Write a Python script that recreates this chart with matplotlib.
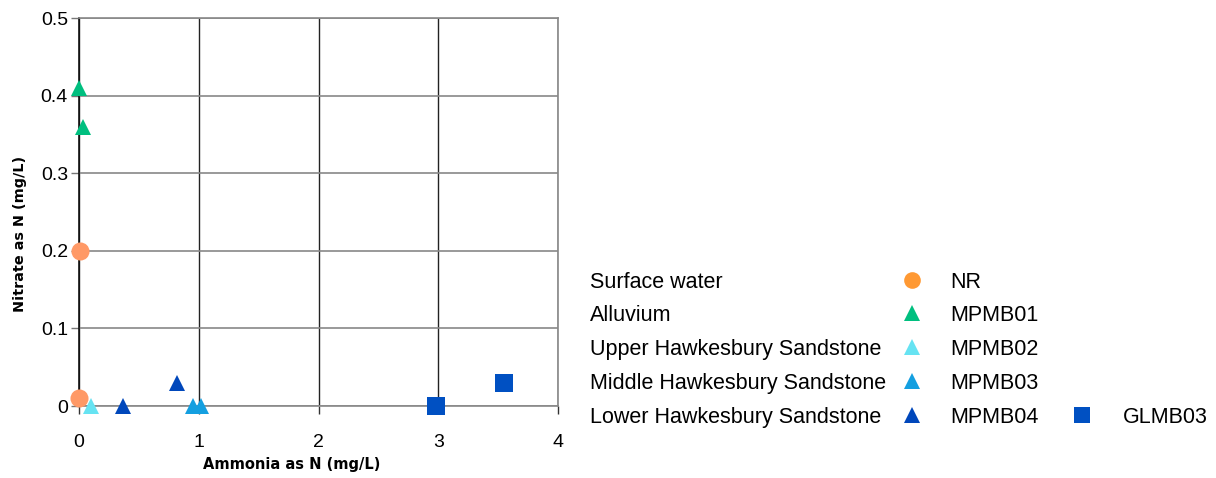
import matplotlib
matplotlib.use("Agg")
import matplotlib.pyplot as plt
from matplotlib.lines import Line2D

plt.rcParams['font.family'] = ['Liberation Sans', 'DejaVu Sans']

# station data: ammonia (x) vs nitrate (y), mg/L
stations = ["NR", "MPMB01", "MPMB02", "MPMB03", "MPMB04", "GLMB03"]
units = ["Surface water", "Alluvium", "Upper Hawkesbury Sandstone",
         "Middle Hawkesbury Sandstone", "Lower Hawkesbury Sandstone"]
ammonia = {
    "NR": [0.01, 0.0],
    "MPMB01": [0.0, 0.03],
    "MPMB02": [0.1],
    "MPMB03": [0.95, 1.02],
    "MPMB04": [0.37, 0.82],
    "GLMB03": [2.98, 3.55],
}
nitrate = {
    "NR": [0.2, 0.01],
    "MPMB01": [0.41, 0.36],
    "MPMB02": [0.0],
    "MPMB03": [0.0, 0.0],
    "MPMB04": [0.0, 0.03],
    "GLMB03": [0.0, 0.03],
}
x_ticks = [0, 1, 2, 3, 4]
y_ticks = [0, 0.1, 0.2, 0.3, 0.4, 0.5]
y_ticklabels = ["0", "0.1", "0.2", "0.3", "0.4", "0.5"]

style = {
    "NR": dict(marker="o", color="#FF9966", ms=13),
    "MPMB01": dict(marker="^", color="#00BF7F", ms=12),
    "MPMB02": dict(marker="^", color="#66E3F2", ms=12),
    "MPMB03": dict(marker="^", color="#149FE0", ms=12),
    "MPMB04": dict(marker="^", color="#0047BB", ms=12),
    "GLMB03": dict(marker="s", color="#0050C2", ms=13),
}
legend_colors = {"NR": "#FF9933"}

W, H = 1216, 478
fig = plt.figure(figsize=(W / 100, H / 100), dpi=100)
ax = fig.add_axes([0.065, 0.1506, 0.394, 0.8114])

for s in stations:
    st = style[s]
    ax.plot(ammonia[s], nitrate[s], linestyle="none", marker=st["marker"],
            color=st["color"], markersize=st["ms"], markeredgewidth=0,
            clip_on=False, zorder=5)

ax.set_xlim(0, 4)
ax.set_ylim(0, 0.5)
ax.set_xticks(x_ticks)
ax.set_yticks(y_ticks)
ax.set_yticklabels(y_ticklabels)
ax.tick_params(axis="both", labelsize=14, length=6, width=1, direction="out",
               colors="#777777", labelcolor="black")
ax.tick_params(axis="y", pad=2)
ax.tick_params(axis="x", colors="#333333", labelcolor="black", pad=14)
ax.grid(axis="x", color="#222222", linewidth=1)
ax.grid(axis="y", color="#888888", linewidth=1.2)
for side in ["top", "right", "bottom"]:
    ax.spines[side].set_color("#888888")
    ax.spines[side].set_linewidth(1.2)
ax.spines["left"].set_color("#111111")
ax.spines["left"].set_linewidth(1.2)

label_font = dict(fontweight="bold", family=["DejaVu Sans"])
fig.text(292 / W, 1 - 464 / H, "Ammonia as N (mg/L)", fontsize=10.5,
         ha="center", va="center", **label_font)
fig.text(20 / W, 1 - 234 / H, "Nitrate as N (mg/L)", fontsize=10.4,
         ha="center", va="center", rotation=90, **label_font)

# legend laid out as a table of text and markers
row_y = [280, 313, 347, 381, 415]
for i, (u, s) in enumerate(zip(units, stations[:5])):
    yf = 1 - row_y[i] / H
    yb = 1 - (row_y[i] + 8) / H
    fig.text(590 / W, yb, u, fontsize=15.5, va="baseline", ha="left")
    st = style[s]
    fig.add_artist(Line2D([912 / W], [yf], marker=st["marker"], linestyle="none",
                          color=legend_colors.get(s, st["color"]),
                          markersize=st["ms"] - 1, markeredgewidth=0,
                          transform=fig.transFigure))
    fig.text(950 / W, yb, s, fontsize=15.5, va="baseline", ha="left")

yf = 1 - row_y[4] / H
yb = 1 - (row_y[4] + 8) / H
st = style["GLMB03"]
fig.add_artist(Line2D([1082 / W], [yf], marker=st["marker"], linestyle="none",
                      color=st["color"], markersize=st["ms"] - 1, markeredgewidth=0,
                      transform=fig.transFigure))
fig.text(1123 / W, yb, "GLMB03", fontsize=15.5, va="baseline", ha="left")

fig.savefig("out.png", dpi=100)
